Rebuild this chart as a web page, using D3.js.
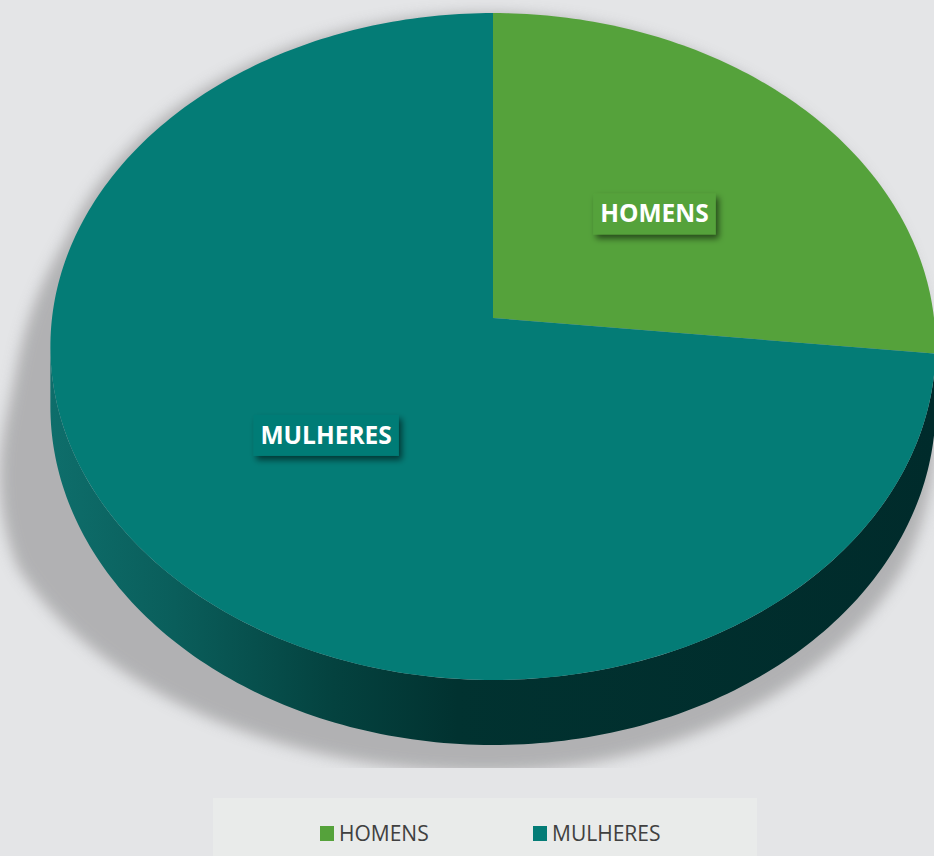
<!DOCTYPE html>
<html>
<head>
<meta charset="utf-8">
<script src="https://cdn.jsdelivr.net/npm/d3@7"></script>
<style>
  body { margin: 0; background: #e4e5e7; }
  svg { display: block; }
</style>
</head>
<body>
<div class="canvas"></div>
<script>
// data
var categories = ["HOMENS", "MULHERES"];
var values = [26.7, 73.3];
var colors = ["#55a23b", "#047c76"];

var width = 934, height = 856;

// pie geometry (3d disk seen in perspective)
var cx = 493, cy = 318;
var rx = 441, ry = 331, k = 0.0855, depth = 59.5;
var plotBottom = 768;

var svg = d3.select(".canvas").append("svg")
    .attr("width", width)
    .attr("height", height);

var defs = svg.append("defs");

// soft shadow behind the pie
var blur = defs.append("filter").attr("id", "blur")
    .attr("x", "-20%").attr("y", "-20%").attr("width", "140%").attr("height", "140%");
blur.append("feGaussianBlur").attr("stdDeviation", 7);

defs.append("clipPath").attr("id", "plotClip")
    .append("rect")
    .attr("x", 0).attr("y", 0)
    .attr("width", width).attr("height", plotBottom);

// side wall gradient
var sideGrad = defs.append("linearGradient").attr("id", "sideGrad")
    .attr("gradientUnits", "userSpaceOnUse")
    .attr("x1", 50).attr("y1", 0).attr("x2", 936).attr("y2", 0);
[["0%", "#0e6e6b"], ["14%", "#0a5e5b"], ["32%", "#04423f"], ["46%", "#013230"], ["100%", "#002b2b"]]
    .forEach(function (s) {
        sideGrad.append("stop").attr("offset", s[0]).attr("stop-color", s[1]);
    });

// label box shadow
var drop = defs.append("filter").attr("id", "drop")
    .attr("x", "-20%").attr("y", "-30%").attr("width", "150%").attr("height", "180%");
drop.append("feDropShadow")
    .attr("dx", 3).attr("dy", 4).attr("stdDeviation", 3)
    .attr("flood-color", "#000").attr("flood-opacity", 0.55);

// angle from 12 o'clock clockwise, r = radius fraction, z = depth downwards
function proj(a, r, z) {
    var t = -Math.cos(a) * r;
    var s = 1 / (1 - k * t);
    return [cx + rx * Math.sin(a) * r * s, cy + (ry * t + z) * s];
}

function arcPoints(a0, a1, z) {
    var n = Math.max(2, Math.ceil(Math.abs(a1 - a0) * 60));
    return d3.range(n + 1).map(function (i) {
        return proj(a0 + (a1 - a0) * i / n, 1, z);
    });
}

var line = d3.line();
var pie = d3.pie().sort(null).value(function (d) { return d; });
var arcs = pie(values);

// visible side range (left and right extremes of the disk)
var aL = Math.acos(-k), aR = 2 * Math.PI - aL;

// shadow: pie outline stretched out to the lower left, blurred
var outline = arcPoints(aR, 2 * Math.PI + aL, 0).concat(arcPoints(aL, aR, depth));
var shadowPts = outline.map(function (p) {
    var f = Math.max(0, Math.min(1, (p[1] - 240) / 300));
    var sx = p[0] < cx ? 1 + 0.15 * f : 1 + 0.03 * f;
    return [cx - 8 + (p[0] - cx) * sx, p[1] + 27 * f];
});

svg.append("g")
    .attr("clip-path", "url(#plotClip)")
    .append("path")
    .attr("d", line(shadowPts) + "Z")
    .attr("fill", "#a9a9aa")
    .attr("opacity", 0.85)
    .attr("filter", "url(#blur)");

// side walls (only the front half is visible)
var sides = svg.append("g").attr("class", "sides");
arcs.forEach(function (d) {
    var a0 = Math.max(d.startAngle, aL), a1 = Math.min(d.endAngle, aR);
    if (a1 <= a0) return;
    var pts = arcPoints(a0, a1, 0).concat(arcPoints(a0, a1, depth).reverse());
    sides.append("path")
        .attr("d", line(pts) + "Z")
        .attr("fill", "url(#sideGrad)");
});

// top faces
svg.append("g").attr("class", "tops")
    .selectAll("path")
    .data(arcs)
    .enter().append("path")
    .attr("d", function (d) {
        return line([proj(0, 0, 0)].concat(arcPoints(d.startAngle, d.endAngle, 0))) + "Z";
    })
    .attr("fill", function (d, i) { return colors[i]; });

// data labels
var labels = svg.append("g").attr("class", "labels")
    .selectAll("g")
    .data(arcs)
    .enter().append("g")
    .attr("transform", function (d) {
        var p = proj((d.startAngle + d.endAngle) / 2, 0.5, 0);
        return "translate(" + (p[0] + 2) + "," + (p[1] + 3) + ")";
    });

labels.append("rect")
    .attr("fill", function (d, i) { return colors[i]; })
    .attr("filter", "url(#drop)");

labels.append("text")
    .attr("text-anchor", "middle")
    .attr("y", 9)
    .style("font-family", "'Open Sans', sans-serif")
    .style("font-weight", 700)
    .style("font-size", "24.5px")
    .attr("fill", "#fff")
    .text(function (d, i) { return categories[i]; });

labels.each(function () {
    var g = d3.select(this);
    var bb = g.select("text").node().getBBox();
    g.select("rect")
        .attr("x", bb.x - 7).attr("y", -20)
        .attr("width", bb.width + 14).attr("height", 41);
});

// legend
var legend = svg.append("g").attr("class", "legend");
legend.append("rect")
    .attr("x", 213).attr("y", 798)
    .attr("width", 544).attr("height", 58)
    .attr("fill", "#e9ebea");

var lx = d3.scalePoint().domain(categories).range([320, 533]);

var items = legend.selectAll("g.item")
    .data(categories)
    .enter().append("g")
    .attr("class", "item")
    .attr("transform", function (d) { return "translate(" + lx(d) + ",826)"; });

items.append("rect")
    .attr("width", 14).attr("height", 15)
    .attr("fill", function (d, i) { return colors[i]; });

items.append("text")
    .attr("x", 19).attr("y", 15)
    .style("font-family", "'Open Sans', sans-serif")
    .style("font-size", "21px")
    .attr("fill", "#404040")
    .text(function (d) { return d; });
</script>
</body>
</html>
